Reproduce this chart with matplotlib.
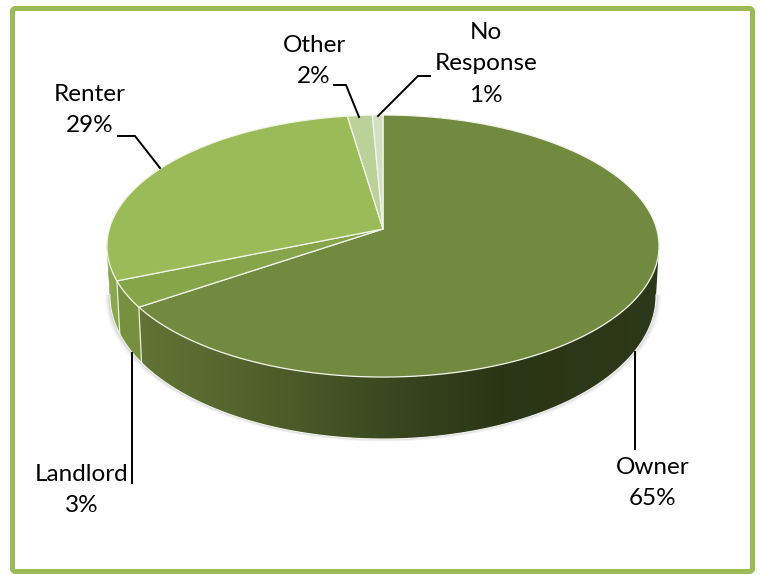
import numpy as np
import matplotlib
matplotlib.use('Agg')
import matplotlib.pyplot as plt
from matplotlib.patches import FancyBboxPatch, Polygon

# Chart data
categorias = ['Owner', 'Landlord', 'Renter', 'Other', 'No\nResponse']
valores = [65.49, 3.26, 28.9, 1.65, 0.7]

# Slice colours, top face and side
colores = ['#728a3f', '#86a44a', '#9bbb59', '#bcd09a', '#d3dec2']
lados = ['#76903f', '#76903f', '#8aa64e', '#a9c07c', '#c0cfa5']

# Label centres and leader lines, in pixels
pos_etiquetas = [(653, 483), (82, 490), (90, 110), (314, 61), (486, 64)]
lineas = [
    [(635, 352), (635, 449)],
    [(132, 353), (132, 483)],
    [(118, 136), (135, 136), (160, 168)],
    [(334, 85), (346, 85), (359, 117)],
    [(430, 76), (418, 76), (378, 116)],
]

VERDE = '#9bbb59'
K = 0.13


# Perspective projection of the upper and lower rim of the pie
def borde_sup(th):
    w = 1 / (1 + K * np.cos(th))
    return 383 + 273.7 * np.sin(th) * w, 229 - 128.8 * np.cos(th) * w


def borde_inf(th):
    w = 1 / (1 + K * np.cos(th))
    return 383 + 270.7 * np.sin(th) * w, 277.4 - 140.6 * np.cos(th) * w


fig = plt.figure(figsize=(7.61, 5.75), dpi=100)
ax = fig.add_axes([0, 0, 1, 1])

# Frame
ax.add_patch(FancyBboxPatch((12.5, 8.5), 740, 563,
                            boxstyle='round,pad=0,rounding_size=3',
                            fc='white', ec=VERDE, lw=3.6))

limites = np.radians(np.concatenate([[0], np.cumsum(valores)]) * 3.6)

# Soft shadow under the lower rim
ths = np.linspace(np.radians(97), np.radians(263), 200)
x_inf, y_inf = borde_inf(ths)
for d, a in [(5, 0.05), (3.5, 0.07), (2, 0.1)]:
    xs = 383 + (x_inf - 383) * (1 + d / 272)
    ys = 296 + (y_inf - 296) * (1 + d / 272)
    ax.fill(xs, ys, color='#606060', alpha=a, lw=0, zorder=2)

# Side wall, one outline per slice
ini_lado, fin_lado = np.radians(97.5), np.radians(262.5)
for i in range(len(valores)):
    ini = max(limites[i], ini_lado)
    fin = min(limites[i + 1], fin_lado)
    if fin <= ini:
        continue
    t = np.linspace(ini, fin, 150)
    xa, ya = borde_sup(t)
    xb, yb = borde_inf(t)
    contorno = np.c_[np.r_[xa, xb[::-1]], np.r_[ya, yb[::-1]]]
    if i == 0:
        # Owner side goes from mid green to almost black green, left to right
        px = np.arange(130, 665)
        xs = [140, 200, 300, 400, 500, 660]
        cs = [(0.38, 0.45, 0.21), (0.35, 0.42, 0.19), (0.29, 0.35, 0.16),
              (0.22, 0.27, 0.12), (0.17, 0.21, 0.09), (0.18, 0.22, 0.10)]
        rgb = np.stack([np.interp(px, xs, [c[j] for c in cs]) for j in range(3)], axis=1)
        im = ax.imshow(rgb[np.newaxis, :, :], extent=(130, 665, 445, 230),
                       aspect='auto', zorder=3, interpolation='bilinear')
        clip = Polygon(contorno, closed=True, transform=ax.transData, fc='none', ec='none')
        ax.add_patch(clip)
        im.set_clip_path(clip)
    else:
        ax.fill(contorno[:, 0], contorno[:, 1], fc=lados[i], ec=lados[i], lw=0.4, zorder=3)

# White seams on the side
for th in limites[1:3]:
    xa, ya = borde_sup(th)
    xb, yb = borde_inf(th)
    ax.plot([xa, xb], [ya, yb], color='#e8eedb', lw=0.9, zorder=4)

# Thin light line on the lower rim
ax.plot(x_inf, y_inf, color='#f4f4f0', lw=0.8, zorder=4)

# Top face
for i in range(len(valores)):
    t = np.linspace(limites[i], limites[i + 1], 200)
    x, y = borde_sup(t)
    ax.fill(np.r_[383, x], np.r_[229, y], fc=colores[i], ec='#f2f5ea', lw=0.9,
            joinstyle='round', zorder=5)

# Leader lines and labels
for linea in lineas:
    ax.plot(*zip(*linea), color='black', lw=1.4, zorder=6,
            solid_joinstyle='miter')

for nombre, v, (x, y) in zip(categorias, valores, pos_etiquetas):
    ax.text(x, y, f'{nombre}\n{v:.0f}%', family='Lato', fontsize=17.5,
            color='black', ha='center', va='center', linespacing=1.6, zorder=7)

ax.set_xlim(0, 761)
ax.set_ylim(575, 0)
ax.axis('off')

fig.savefig('out.png', dpi=100)
